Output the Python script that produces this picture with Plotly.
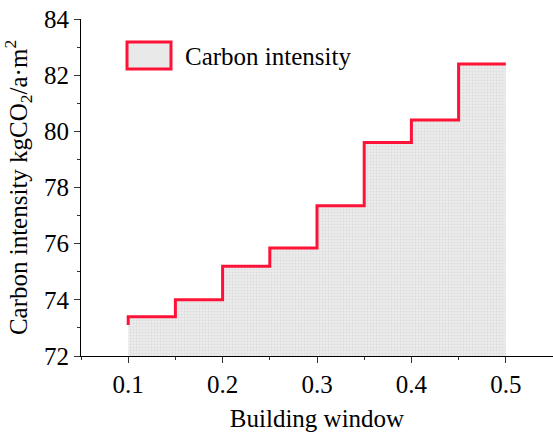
import plotly.graph_objects as go

# Building window ratio and carbon intensity (kgCO2/a·m2)
window_ratio = [0.10, 0.15, 0.20, 0.25, 0.30, 0.35, 0.40, 0.45, 0.50]
carbon_intensity = [73.1, 73.4, 74.0, 75.2, 75.85, 77.35, 79.6, 80.4, 82.4]

x_ticks = [0.1, 0.2, 0.3, 0.4, 0.5]
y_ticks = [72, 74, 76, 78, 80, 82, 84]

FONT = "Liberation Serif, Times New Roman, serif"
RED = "#ff1238"

fig = go.Figure()
fig.add_trace(go.Scatter(
    x=window_ratio,
    y=carbon_intensity,
    mode="lines",
    line=dict(shape="vh", color=RED, width=3),
    fill="tozeroy",
    fillcolor="#ebebeb",
    fillpattern=dict(shape=".", bgcolor="#ebebeb", fgcolor="#cfcfcf",
                     size=3, solidity=0.35),
    name="Carbon intensity",
    showlegend=False,
))

# Legend key drawn as a box plus label
fig.add_shape(type="rect", xref="paper", yref="paper",
              x0=(127 - 81) / 472, x1=(171 - 81) / 472,
              y0=(356 - 69) / 337, y1=(356 - 42) / 337,
              line=dict(color=RED, width=3), fillcolor="#e9e9e9")
fig.add_annotation(xref="paper", yref="paper",
                   x=(183 - 81) / 472, y=(356 - 56) / 337,
                   xanchor="left", yanchor="middle", showarrow=False,
                   text="Carbon intensity",
                   font=dict(family=FONT, size=25, color="black"))

fig.update_layout(
    width=553, height=432,
    margin=dict(l=81, r=0, t=19, b=76),
    paper_bgcolor="white", plot_bgcolor="white",
    font=dict(family=FONT, size=25, color="black"),
    xaxis=dict(
        range=[0.05, 0.55], tickvals=x_ticks, ticktext=[f"{v:.1f}" for v in x_ticks],
        tickfont=dict(family=FONT, size=25, color="black"),
        showline=True, linecolor="black", linewidth=1.2,
        ticks="outside", ticklen=6, tickcolor="#333", tickwidth=1,
        minor=dict(dtick=0.05, tick0=0.05, ticks="outside", ticklen=3,
                   tickcolor="#333"),
        showgrid=False, zeroline=False,
        title=dict(text="Building window", standoff=28,
                   font=dict(family=FONT, size=25, color="black")),
        automargin=False,
    ),
    yaxis=dict(
        range=[72, 84], tickvals=y_ticks,
        tickfont=dict(family=FONT, size=25, color="black"),
        showline=True, linecolor="black", linewidth=1.2,
        ticks="outside", ticklen=6, tickcolor="#333", tickwidth=1,
        minor=dict(dtick=1, tick0=73, ticks="outside", ticklen=3,
                   tickcolor="#333"),
        showgrid=False, zeroline=False,
        title=dict(text="Carbon intensity kgCO<sub>2</sub>/a·m<sup>2</sup>",
                   standoff=10, font=dict(family=FONT, size=25, color="black")),
        automargin=False,
    ),
)

fig.write_html("out.html")
